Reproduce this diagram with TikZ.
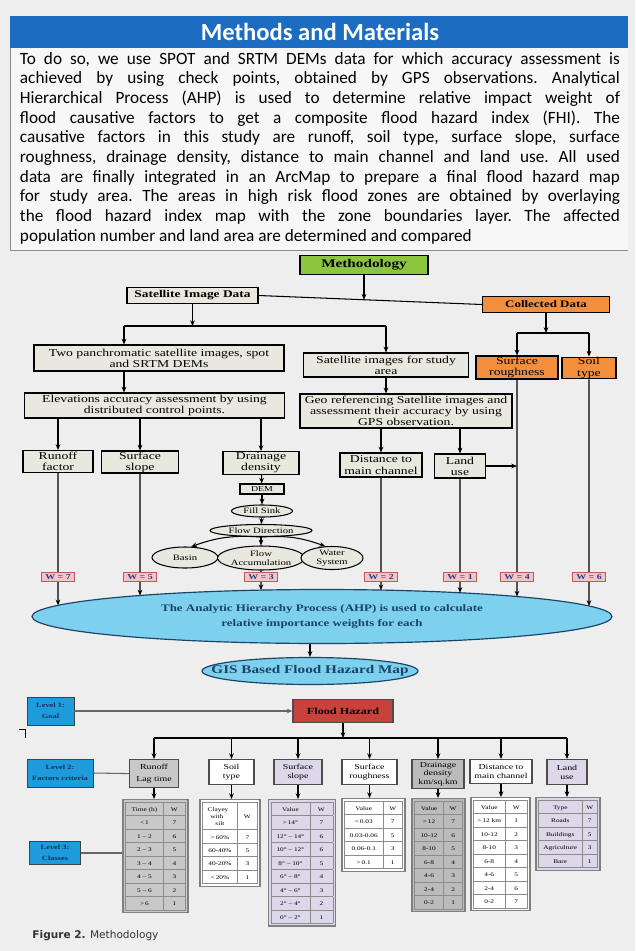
\documentclass[tikz,border=0pt]{standalone}
\usepackage{fontspec}
\setmainfont{Liberation Serif}[FakeStretch=1.3]
\newfontfamily\bodyfont{Carlito}
\newfontfamily\capfont{DejaVu Sans}
\usepackage{array,colortbl}
\usetikzlibrary{arrows.meta,shapes.geometric,calc,intersections}
\newcolumntype{C}[1]{>{\centering\arraybackslash}m{#1}}
\newcommand\tabset{\renewcommand\arraystretch{1.85}\setlength\tabcolsep{1pt}\arrayrulecolor{black!45}}
\definecolor{bgcol}{HTML}{EEEEEE}
\definecolor{banner}{HTML}{1C6DC1}
\definecolor{boxfill}{HTML}{E8E8DE}
\definecolor{methgreen}{HTML}{8CC63E}
\definecolor{collorange}{HTML}{F28E3C}
\definecolor{ahpblue}{HTML}{7DD0EE}
\definecolor{ahptext}{HTML}{1A4466}
\definecolor{wpink}{HTML}{F4C4C6}
\definecolor{wedge}{HTML}{C0595C}
\definecolor{wtext}{HTML}{23408E}
\definecolor{lvlblue}{HTML}{1E9BDA}
\definecolor{lvltext}{HTML}{12305E}
\definecolor{fhred}{HTML}{C8423B}
\definecolor{tgray}{HTML}{C8C8C8}
\definecolor{tdark}{HTML}{BBBBBB}
\definecolor{tlav}{HTML}{DCD8EA}

\begin{document}
\begin{tikzpicture}[x=0.03cm,y=-0.03cm,line width=0.9pt,>={Stealth[length=1.7mm,width=1.4mm]},
  flow/.style={draw,fill=boxfill,align=center,inner sep=0.5pt,font=\fontsize{9}{9.5}\selectfont},
  headbox/.style={flow,font=\fontsize{8.8}{10}\selectfont\bfseries},
  collbox/.style={flow,fill=collorange},
  oval/.style={draw,ellipse,fill=boxfill,align=center,inner sep=0pt,font=\fontsize{7}{7.5}\selectfont},
  wlab/.style={draw=wedge,fill=wpink,line width=0.6pt,inner sep=0.5pt,text=wtext,
    font=\fontsize{6.5}{7}\selectfont\bfseries,minimum width=0.99cm,minimum height=0.27cm},
  lvl/.style={draw=black!75,line width=0.8pt,fill=lvlblue,align=center,text=lvltext,
    font=\fontsize{5.5}{9}\selectfont\bfseries},
  crit/.style={draw=black!70,line width=1pt,anchor=north,align=center,inner sep=1pt,
    font=\fontsize{6.5}{7.5}\selectfont},
  tab/.style={draw=black!50,line width=1pt,anchor=north,inner sep=2pt,
    font=\fontsize{4.8}{6}\selectfont\tabset}]
\fill[bgcol] (0,0) rectangle (635,951);
\useasboundingbox (0,0) rectangle (635,951);
% 顶部标题栏与正文
\fill[white!55!bgcol] (10,47) rectangle (628,250);
\draw[black!45,line width=0.6pt] (10,47) -- (10,250) -- (628,250);
\fill[banner] (10,16) rectangle (628,48);
\node[text=white,font=\bodyfont\fontsize{21}{22}\selectfont\bfseries] (title) at (320,32) {Methods and Materials};
\node[text width=18cm,align=justify,inner sep=0pt,
  font=\bodyfont\fontsize{14.7}{16.8}\selectfont\frenchspacing\hyphenpenalty10000\relax] (body) at (320,148)
 {To do so, we use SPOT and SRTM DEMs data for which accuracy assessment is\linebreak
  achieved by using check points, obtained by GPS observations. Analytical\linebreak
  Hierarchical Process (AHP) is used to determine relative impact weight of\linebreak
  flood causative factors to get a composite flood hazard index (FHI). The\linebreak
  causative factors in this study are runoff, soil type, surface slope, surface\linebreak
  roughness, drainage density, distance to main channel and land use. All used\linebreak
  data are finally integrated in an ArcMap to prepare a final flood hazard map\linebreak
  for study area. The areas in high risk flood zones are obtained by overlaying\linebreak
  the flood hazard index map with the zone boundaries layer. The affected\linebreak
  population number and land area are determined and compared};
% 方法流程图
\node[headbox,fill=methgreen,font=\fontsize{10}{11}\selectfont\bfseries,minimum width=3.84cm,minimum height=0.57cm] (meth) at (364,265) {Methodology};
\node[headbox,minimum width=3.93cm,minimum height=0.48cm] (sat) at (192.5,295.5) {Satellite Image Data};
\node[collbox,font=\fontsize{8.5}{10}\selectfont\bfseries,minimum width=3.81cm,minimum height=0.48cm] (coll) at (546,304.5) {Collected Data};
\coordinate (mj) at ($(sat.east)!0.47!(coll.west)$);
\draw (sat.east) -- (coll.west);
\draw[->] (meth.south) -- (meth.south |- mj);
\node[flow,minimum width=7.5cm,minimum height=0.78cm] (pan) at (159,358) {Two panchromatic satellite images, spot\\and SRTM DEMs};
\node[flow,minimum width=4.95cm,minimum height=0.72cm] (sis) at (386,365) {Satellite images for study\\area};
\node[flow,minimum width=7.8cm,minimum height=0.75cm] (elev) at (154.5,405.5) {Elevations accuracy assessment by using\\distributed control points.};
\node[flow,minimum width=6.36cm,minimum height=1.02cm] (geo) at (406,411) {Geo referencing Satellite images and\\assessment their accuracy by using\\GPS observation.};
\coordinate (sb1) at (124,326);
\coordinate (sb2) at (386,326);
\draw[->] (sat.south) -- (sat.south |- sb1);
\draw (sb1) -- (sb2);
\draw[->] (sb1) -- (sb1 |- pan.north);
\draw[->] (sb2) -- (sb2 |- sis.north);
\draw[->] (pan.south -| sb1) -- (elev.north -| sb1);
\draw[->] (sis.south) -- (geo.north -| sis.south);
% 因子
\node[flow,minimum width=2.1cm,minimum height=0.66cm] (runoff) at (58,461.5) {Runoff\\factor};
\node[flow,minimum width=2.31cm,minimum height=0.66cm] (slope) at (140,462) {Surface\\slope};
\node[flow,minimum width=2.28cm,minimum height=0.69cm] (drain) at (261,463) {Drainage\\density};
\node[flow,minimum width=2.46cm,minimum height=0.72cm] (dist) at (381,465) {Distance to\\main channel};
\node[flow,minimum width=1.53cm,minimum height=0.72cm] (land) at (460,466) {Land\\use};
\foreach \n in {runoff,slope,drain}
  \draw[->] (elev.south -| \n.north) -- (\n.north);
\foreach \n in {dist,land}
  \draw[->] (geo.south -| \n.north) -- (\n.north);
\node[collbox,minimum width=2.46cm,minimum height=0.69cm] (rough) at (517,367.5) {Surface\\roughness};
\node[collbox,minimum width=1.62cm,minimum height=0.63cm] (soil) at (589,368) {Soil\\type};
\coordinate (cb1) at (517,333);
\coordinate (cb2) at (589,333);
\draw[->] (coll.south) -- (coll.south |- cb1);
\draw (cb1) -- (cb2);
\draw[->] (cb1) -- (rough.north);
\draw[->] (cb2) -- (soil.north);
\draw[->] (land.east) -- (land.east -| rough.south);
% DEM 处理链
\node[flow,font=\fontsize{6.5}{7}\selectfont,minimum width=1.32cm,minimum height=0.3cm,inner sep=0pt] (dem) at (262,489) {DEM};
\node[oval,minimum width=1.83cm,minimum height=0.36cm] (fsink) at (262,511) {Fill Sink};
\node[oval,minimum width=3.06cm,minimum height=0.36cm] (fdir) at (261,530.5) {Flow Direction};
\node[oval,minimum width=1.98cm,minimum height=0.63cm] (basin) at (185,557.5) {Basin};
\node[oval,minimum width=2.61cm,minimum height=0.72cm] (facc) at (261,558) {Flow\\Accumulation};
\node[oval,minimum width=1.86cm,minimum height=0.69cm] (water) at (332,558) {Water\\System};
\draw[->] (drain) -- (dem);
\draw[->] (dem) -- (fsink);
\draw[->] (fsink) -- (fdir);
\draw[->] (fdir) -- (facc);
\draw[->] (fdir.south) to[bend right=12] (basin.60);
\draw[->] (fdir.south) to[bend left=12] (water.120);
% AHP 与权重
\node[draw=ahptext,ellipse,fill=ahpblue,line width=1pt,name path=ahpe,align=center,text=ahptext,
  minimum width=17.4cm,minimum height=1.62cm,font=\fontsize{8.5}{12.8}\selectfont\bfseries] (ahp) at (322,616.5)
 {The Analytic Hierarchy Process (AHP) is used to calculate\\relative importance weights for each};
\coordinate (wy) at (0,577);
\foreach \n/\w in {runoff/7,slope/5,facc/3,dist/2,land/1,rough/4,soil/6}{
  \path[name path=vl] (\n.south) -- (\n.south |- ahp.center);
  \draw[->,name intersections={of=vl and ahpe}] (\n.south) -- (intersection-1);
  \node[wlab] at (\n.south |- wy) {W = \w};
}
\node[draw=ahptext,ellipse,fill=ahpblue,line width=1pt,text=ahptext,inner xsep=-1.5cm,inner ysep=0pt,
  minimum width=6.48cm,minimum height=0.81cm,font=\fontsize{10}{11}\selectfont\bfseries] (gis) at (310,671)
 {GIS Based Flood Hazard Map};
\draw[->] (ahp.south -| gis.north) -- (gis.north);
% 层次结构
\node[lvl,minimum width=1.41cm,minimum height=0.84cm] (lvl1) at (50.5,711) {Level 1:\\Goal};
\node[lvl,minimum width=1.98cm,minimum height=0.84cm] (lvl2) at (60,773) {Level 2:\\Factors criteria};
\node[lvl,minimum width=1.53cm,minimum height=0.66cm] (lvl3) at (55,853) {Level 3:\\Classes};
\draw[line width=0.8pt] (19,729) -- (25,729) -- (25,738);
\node[draw=black!70,fill=fhred,line width=1pt,font=\fontsize{8}{9}\selectfont\bfseries,
  minimum width=3cm,minimum height=0.69cm] (fh) at (343,711) {Flood Hazard};
\draw[->,draw=black!60] (lvl1.east) -- (fh.west);
\node[crit,fill=tgray,minimum width=1.47cm,minimum height=0.84cm] (crun) at (154,759) {Runoff\\[2pt]Lag time};
\node[crit,fill=white,minimum width=1.35cm,minimum height=0.75cm] (csoil) at (231.5,759) {Soil\\type};
\node[crit,fill=tlav,minimum width=1.44cm,minimum height=0.75cm] (cslope) at (298,759) {Surface\\slope};
\node[crit,fill=white,minimum width=1.65cm,minimum height=0.75cm] (crough) at (369.5,759) {Surface\\roughness};
\node[crit,fill=tdark,minimum width=1.56cm,minimum height=0.87cm] (cdrain) at (438,759) {Drainage\\density\\km/sq.km};
\node[crit,fill=white,minimum width=1.86cm,minimum height=0.72cm] (cdist) at (501,759) {Distance to\\main channel};
\node[crit,fill=tlav,minimum width=1.2cm,minimum height=0.75cm] (cland) at (567,759) {Land\\use};
\coordinate (hb) at (0,738);
\draw[->] (fh.south) -- (fh.south |- hb);
\draw (crun.north |- hb) -- (cland.north |- hb);
\foreach \n in {crun,csoil,cslope,crough,cdrain,cdist,cland}
  \draw[->] (\n.north |- hb) -- (\n.north);
\draw[draw=black!60] (lvl2.east) -- (crun.west);
% 分级表
\node[tab,fill=tgray] (trun) at (155.5,799) {\begin{tabular}{|C{1.05cm}|C{0.58cm}|}\hline
 Time (h)&W\\\hline <\,1&7\\\hline 1 -- 2&6\\\hline 2 -- 3&5\\\hline 3 -- 4&4\\\hline
 4 -- 5&3\\\hline 5 -- 6&2\\\hline >\,6&1\\\hline\end{tabular}};
\node[tab,fill=white] (tsoil) at (230,799) {\begin{tabular}{|C{0.96cm}|C{0.52cm}|}\hline
 Clayey\newline with\newline silt&W\\\hline >\,60\%&7\\\hline 60-40\%&5\\\hline
 40-20\%&3\\\hline <\,20\%&1\\\hline\end{tabular}};
\node[tab,fill=tlav] (tslope) at (302,799) {\begin{tabular}{|C{1.08cm}|C{0.61cm}|}\hline
 Value&W\\\hline >\,14°&7\\\hline 12° -- 14°&6\\\hline 10° -- 12°&6\\\hline 8° -- 10°&5\\\hline
 6° -- 8°&4\\\hline 4° -- 6°&3\\\hline 2° -- 4°&2\\\hline 0° -- 2°&1\\\hline\end{tabular}};
\node[tab,fill=white] (trough) at (373.5,798) {\begin{tabular}{|C{1.07cm}|C{0.5cm}|}\hline
 Value&W\\\hline <\,0.03&7\\\hline 0.03-0.06&5\\\hline 0.06-0.1&3\\\hline >\,0.1&1\\\hline\end{tabular}};
\node[tab,fill=tdark] (tdrain) at (438.5,798) {\begin{tabular}{|C{0.79cm}|C{0.48cm}|}\hline
 Value&W\\\hline >\,12&7\\\hline 10-12&6\\\hline 8-10&5\\\hline 6-8&4\\\hline
 4-6&3\\\hline 2-4&2\\\hline 0-2&1\\\hline\end{tabular}};
\node[tab,fill=white] (tdist) at (500.5,797) {\begin{tabular}{|C{0.86cm}|C{0.59cm}|}\hline
 Value&W\\\hline >\,12 km&1\\\hline 10-12&2\\\hline 8-10&3\\\hline 6-8&4\\\hline
 4-6&5\\\hline 2-4&6\\\hline 0-2&7\\\hline\end{tabular}};
\node[tab,fill=tlav] (tland) at (568,797) {\begin{tabular}{|C{1.22cm}|C{0.38cm}|}\hline
 Type&W\\\hline Roads&7\\\hline Buildings&5\\\hline Agriculture&3\\\hline Bare&1\\\hline\end{tabular}};
\foreach \a/\b in {crun/trun,csoil/tsoil,cslope/tslope,crough/trough,cdrain/tdrain,cdist/tdist,cland/tland}
  \draw[->] (\a.south) -- (\b.north -| \a.south);
\draw[draw=black!60] (lvl3.east) -- (lvl3.east -| trun.west);
% 图题
\node[anchor=west,text=black!80,font=\capfont\fontsize{9}{10}\selectfont] (cap) at (28,936) {\textbf{Figure 2.} Methodology};
\end{tikzpicture}
\end{document}
